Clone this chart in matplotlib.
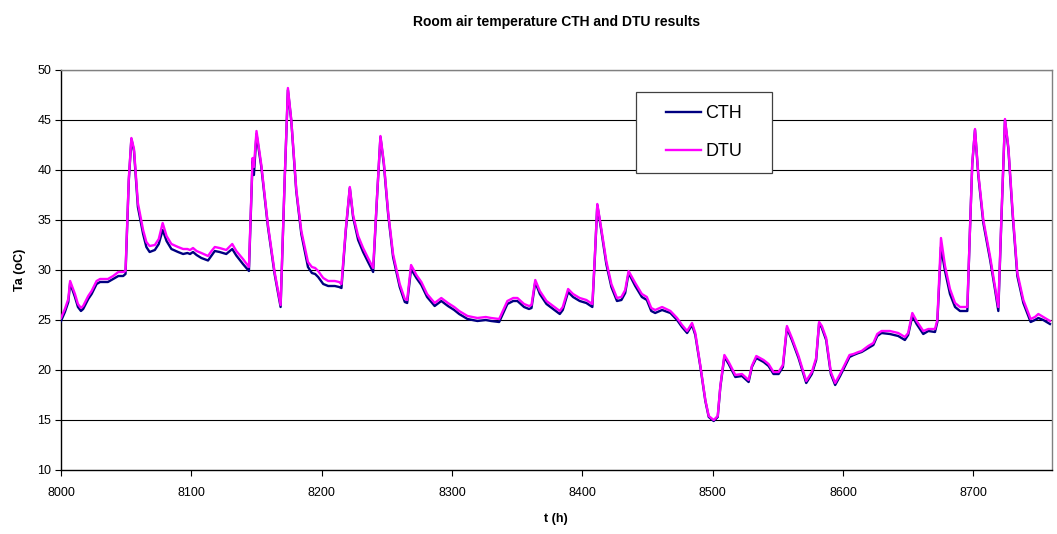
import matplotlib
matplotlib.use("Agg")
import matplotlib.pyplot as plt
from matplotlib.patches import Rectangle

hours = [
    8000, 8003, 8005.6, 8007, 8010.7, 8013, 8015.3, 8017, 8020.9, 8023.5,
    8027.3, 8030, 8036, 8040, 8044, 8047.7, 8049.5, 8052, 8054, 8056,
    8059, 8063, 8065.5, 8068, 8072, 8075, 8078, 8081, 8084.7, 8089.8,
    8093.7, 8097, 8099, 8101.3, 8104, 8107.7, 8112.8, 8115.5, 8118, 8121.7,
    8126.8, 8131.4, 8134.5, 8139.6, 8144.2, 8147, 8148, 8150, 8153.7, 8158.8,
    8163.9, 8168.5, 8171.6, 8174.1, 8176.7, 8180.5, 8184.4, 8189.5, 8192.5, 8195,
    8197.3, 8201.2, 8205, 8210.1, 8213.4, 8215.2, 8218.5, 8221.6, 8224.1, 8228,
    8231.8, 8235.6, 8239.5, 8242.5, 8245.1, 8247.7, 8251, 8254.8, 8259.9, 8263.8,
    8265.6, 8268.6, 8272.7, 8276.5, 8280.9, 8286.7, 8291.8, 8296.9, 8301.7, 8305.5,
    8311.9, 8319.5, 8325.9, 8330, 8336.2, 8342.5, 8347, 8350.2, 8355.3, 8359.1,
    8361, 8363.9, 8367.4, 8372.5, 8377.6, 8382.7, 8385, 8389.1, 8392.9, 8398,
    8403.1, 8407.7, 8409.5, 8411.5, 8414.6, 8418.4, 8422.3, 8426.6, 8430, 8432.9,
    8435.5, 8440.6, 8445.7, 8449.5, 8452.9, 8455.9, 8461.2, 8467.6, 8472.7, 8476.5,
    8480.4, 8484.2, 8486.7, 8490.6, 8494.4, 8497, 8500.8, 8503.9, 8505.9, 8509,
    8512.3, 8517.4, 8522.5, 8527.6, 8530.1, 8533.5, 8539.1, 8542.9, 8546.7, 8550.6,
    8553.9, 8557, 8560.8, 8565.9, 8571.8, 8576.1, 8579.4, 8581.7, 8583.8, 8587.1,
    8590.7, 8594, 8597.8, 8601.6, 8605, 8608.1, 8611.9, 8614.3, 8619.4, 8623.3,
    8626.3, 8629.6, 8636, 8642.4, 8647.5, 8650, 8653.2, 8656.5, 8661.6, 8665.5,
    8670.6, 8672.4, 8675.2, 8678.3, 8682.1, 8686, 8689.8, 8695.4, 8697.4, 8699.2,
    8701.3, 8703.8, 8707.7, 8712.8, 8716.6, 8719.2, 8721.7, 8724.3, 8726.9, 8730.2,
    8733.8, 8738.4, 8744, 8747.3, 8749.9, 8753.7, 8758.8,
]

cth = [
    24.9, 25.8, 26.8, 28.7, 27.3, 26.3, 25.9, 26.1, 27.1, 27.6,
    28.6, 28.8, 28.8, 29.1, 29.4, 29.4, 29.6, 38.9, 43.1, 41.9,
    36.3, 33.6, 32.3, 31.8, 32.0, 32.6, 34.0, 32.9, 32.1, 31.8,
    31.6, 31.7, 31.6, 31.8, 31.5, 31.2, 30.95, 31.45, 31.9, 31.8,
    31.6, 32.1, 31.45, 30.6, 29.9, 41.0, 39.5, 43.6, 40.3, 34.3,
    29.6, 26.3, 38.9, 48.0, 44.9, 37.9, 33.6, 30.3, 29.7, 29.6,
    29.3, 28.6, 28.4, 28.4, 28.3, 28.2, 33.9, 38.2, 35.3, 33.0,
    31.8, 30.8, 29.8, 37.3, 43.3, 40.6, 35.6, 31.3, 28.3, 26.8,
    26.7, 30.1, 29.2, 28.5, 27.3, 26.4, 26.9, 26.4, 26.0, 25.6,
    25.1, 24.9, 25.0, 24.9, 24.8, 26.6, 26.9, 26.9, 26.3, 26.1,
    26.2, 28.8, 27.6, 26.6, 26.1, 25.6, 26.0, 27.8, 27.3, 26.9,
    26.7, 26.3, 30.9, 36.5, 33.9, 30.6, 28.3, 26.9, 27.0, 27.7,
    29.7, 28.4, 27.3, 27.0, 25.9, 25.7, 26.0, 25.7, 25.0, 24.3,
    23.7, 24.5, 23.5, 20.3, 16.9, 15.3, 14.9, 15.3, 18.3, 21.3,
    20.6, 19.3, 19.4, 18.8, 20.3, 21.2, 20.8, 20.4, 19.6, 19.6,
    20.3, 24.2, 23.0, 21.2, 18.7, 19.6, 21.0, 24.7, 24.2, 23.0,
    19.6, 18.5, 19.4, 20.4, 21.3, 21.5, 21.7, 21.8, 22.2, 22.5,
    23.4, 23.7, 23.6, 23.4, 23.0, 23.5, 25.4, 24.6, 23.6, 23.9,
    23.8, 24.8, 32.3, 29.9, 27.6, 26.3, 25.9, 25.9, 33.9, 40.6,
    44.0, 39.5, 34.7, 31.1, 28.1, 25.9, 35.6, 45.0, 42.1, 35.5,
    29.4, 26.7, 24.8, 25.0, 25.2, 25.0, 24.6,
]

dtu = [
    25.2, 26.1, 27.1, 28.9, 27.6, 26.6, 26.2, 26.4, 27.4, 27.9,
    28.9, 29.1, 29.1, 29.4, 29.8, 29.8, 29.9, 39.1, 43.2, 42.1,
    36.7, 34.0, 32.8, 32.4, 32.5, 33.1, 34.7, 33.4, 32.6, 32.3,
    32.1, 32.1, 32.0, 32.2, 31.9, 31.7, 31.4, 31.9, 32.3, 32.2,
    32.0, 32.6, 31.9, 31.1, 30.3, 41.2, 40.3, 43.9, 40.5, 34.5,
    29.8, 26.5, 39.0, 48.2, 45.0, 38.1, 33.9, 30.8, 30.3, 30.2,
    29.9, 29.2, 28.9, 28.9, 28.8, 28.6, 34.1, 38.3, 35.5, 33.4,
    32.2, 31.2, 30.2, 37.4, 43.4, 40.8, 35.8, 31.6, 28.6, 27.1,
    27.0, 30.5, 29.5, 28.8, 27.6, 26.7, 27.2, 26.7, 26.3, 25.9,
    25.4, 25.2, 25.3, 25.2, 25.1, 26.9, 27.2, 27.2, 26.6, 26.4,
    26.5, 29.0, 27.9, 26.9, 26.4, 25.9, 26.3, 28.1, 27.6, 27.2,
    27.0, 26.6, 31.1, 36.6, 34.1, 30.9, 28.6, 27.2, 27.3, 28.0,
    29.9, 28.7, 27.6, 27.3, 26.2, 26.0, 26.3, 25.9, 25.2, 24.5,
    23.9, 24.7, 23.7, 20.4, 17.0, 15.4, 15.0, 15.4, 18.4, 21.5,
    20.8, 19.5, 19.6, 19.0, 20.4, 21.4, 21.0, 20.6, 19.8, 19.8,
    20.5, 24.4, 23.2, 21.4, 18.9, 19.8, 21.2, 24.8, 24.4, 23.2,
    19.8, 18.7, 19.6, 20.6, 21.5, 21.6, 21.8, 21.9, 22.4, 22.7,
    23.6, 23.9, 23.9, 23.7, 23.3, 23.7, 25.7, 24.9, 23.9, 24.1,
    24.1, 25.0, 33.2, 30.4, 28.1, 26.7, 26.3, 26.3, 34.0, 40.7,
    44.1, 39.7, 35.0, 31.4, 28.4, 26.3, 35.8, 45.1, 42.3, 35.8,
    29.7, 27.0, 25.1, 25.3, 25.6, 25.3, 24.9,
]

assert len(hours) == len(cth) == len(dtu)

series_names = ["CTH", "DTU"]
x_ticks = [8000, 8100, 8200, 8300, 8400, 8500, 8600, 8700]
y_ticks = [10, 15, 20, 25, 30, 35, 40, 45, 50]

plt.rcParams['font.family'] = ['Liberation Sans', 'DejaVu Sans']

fig = plt.figure(figsize=(10.57, 5.34), dpi=100)
ax = fig.add_axes([61/1057, 1-470/534, (1051.5-61)/1057, 400/534])

ax.plot(hours, cth, color='#000080', lw=1.7, label=series_names[0], zorder=3,
        solid_joinstyle='round')
ax.plot(hours, dtu, color='#FF00FF', lw=1.7, label=series_names[1], zorder=4,
        solid_joinstyle='round')

ax.set_xlim(8000, 8760)
ax.set_ylim(10, 50)
ax.set_xticks(x_ticks)
ax.set_yticks(y_ticks)
ax.tick_params(axis='both', direction='out', length=4, width=0.8, labelsize=9,
               colors='black')
ax.tick_params(axis='y', pad=3)
ax.tick_params(axis='x', pad=8)

for yv in y_ticks[1:]:
    ax.axhline(yv, color='black', lw=0.8, zorder=1)

for s in ['left', 'bottom']:
    ax.spines[s].set_color('black')
    ax.spines[s].set_linewidth(1.0)
for s in ['top', 'right']:
    ax.spines[s].set_color('#808080')
    ax.spines[s].set_linewidth(1.0)

ax.set_title("Room air temperature CTH and DTU results", fontsize=10,
             fontweight='bold', pad=32)
ax.set_xlabel("t (h)", fontsize=9, fontweight='bold', labelpad=10)
ax.set_ylabel("Ta (oC)", fontsize=9, fontweight='bold', labelpad=8)

# legend box
x0 = (636-61)/990.5
x1 = (772-61)/990.5
y0 = (470-173)/400
y1 = (470-92)/400
ax.add_patch(Rectangle((x0, y0), x1-x0, y1-y0, transform=ax.transAxes,
                       facecolor='white', edgecolor='#404040', lw=0.9, zorder=5))
leg = ax.legend(loc='center', bbox_to_anchor=((x0+x1)/2, (y0+y1)/2),
                frameon=False, fontsize=13, handlelength=1.95,
                handletextpad=0.25, labelspacing=1.15)
leg.set_zorder(6)

fig.savefig("out.png", dpi=100)
